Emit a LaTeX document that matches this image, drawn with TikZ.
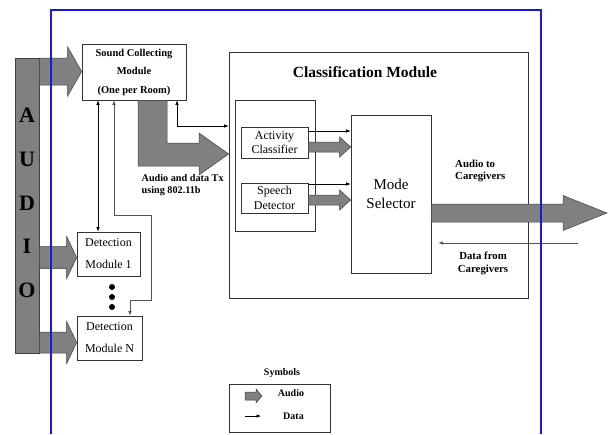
\documentclass[tikz,border=0pt]{standalone}
\usepackage{fontspec}
\setmainfont{Liberation Serif}
\usetikzlibrary{arrows.meta,calc}
\definecolor{frameblue}{RGB}{25,25,215}
\definecolor{agray}{RGB}{128,128,128}
% #2 start, #3 tip, #4 shaft half width, #5 head half width, #6 head length
\newcommand\audioarrow[6][]{%
  \draw[audio,#1] let \p1=(#2), \p2=(#3) in
    (\x1,\y1+#4) -- (\x2-#6,\y1+#4) -- (\x2-#6,\y1+#5) -- (\x2,\y1)
    -- (\x2-#6,\y1-#5) -- (\x2-#6,\y1-#4) -- (\x1,\y1-#4) -- cycle;}
\begin{document}
\begin{tikzpicture}[x=1pt,y=-1pt,
  >={Latex[length=4.5pt,width=3.5pt]},
  box/.style={draw=black!80, fill=white, line width=0.6pt, inner sep=0pt, align=center},
  audio/.style={fill=agray, draw=black!75, line width=0.5pt},
  data/.style={draw=black, line width=0.6pt},
  graydata/.style={draw=black!68, line width=0.7pt},
  lbl/.style={inner sep=0pt, font=\fontsize{10.2}{12}\selectfont\bfseries},
  regtext/.style={font=\fontsize{12}{22}\selectfont}]
\useasboundingbox (0,0) rectangle (610,434);
\fill[white] (0,0) rectangle (610,434);

% helper coordinates
\coordinate (ya) at (0,71.5);
\coordinate (yb) at (0,257.5);
\coordinate (yc) at (0,342.5);
\coordinate (yd) at (0,147);
\coordinate (ye) at (0,200);
\coordinate (yf) at (0,213);
\coordinate (c98) at (98,0);
\coordinate (c114) at (114,0);
\coordinate (c130) at (130,0);
\coordinate (c138) at (138,0);
\coordinate (c167) at (167,0);
\coordinate (c177) at (177,0);
\coordinate (c126) at (0,126);
\coordinate (c131) at (0,131);
\coordinate (c184) at (0,184);
\coordinate (c154) at (0,154);
\coordinate (dfc) at (578,243);
\coordinate (outtip) at (607,213);

% audio bar
\node[box, fill=agray, draw=black!75, minimum width=24pt, minimum height=295pt] (bar) at (27,205.5) {};
\node[inner sep=0pt, font=\fontsize{22}{43.75}\selectfont\bfseries, align=center] (audiotxt) at (27,203) {A\\U\\D\\I\\O};

% boxes
\node[box, minimum width=104pt, minimum height=56pt, font=\fontsize{10.5}{18.5}\selectfont\bfseries] (scm) at (134,72) {Sound Collecting\\Module\\(One per Room)};
\node[box, regtext, minimum width=63pt, minimum height=44pt] (det1) at (108.5,254) {Detection\\Module 1};
\node[box, regtext, minimum width=65pt, minimum height=44pt] (detN) at (109.5,338) {Detection\\Module N};
\node[box, minimum width=299pt, minimum height=246pt] (cls) at (378.5,175) {};
\node[inner sep=0pt, font=\fontsize{15.5}{18}\selectfont\bfseries] (clstitle) at (365,72) {Classification Module};
\node[box, minimum width=80pt, minimum height=131pt] (inner) at (275,165.5) {};
\node[box, font=\fontsize{12}{14.5}\selectfont, minimum width=67pt, minimum height=31pt] (act) at (274.5,142.5) {Activity\\Classifier};
\node[box, font=\fontsize{12}{14.5}\selectfont, minimum width=67pt, minimum height=30pt] (spd) at (274.5,198) {Speech\\Detector};
\node[box, font=\fontsize{15}{19}\selectfont, minimum width=80pt, minimum height=158pt] (mode) at (391,194) {Mode\\Selector};

% audio arrows from the bar
\audioarrow{bar.east |- ya}{scm.west |- ya}{13.5pt}{24.5pt}{14pt}
\audioarrow{bar.east |- yb}{det1.west |- yb}{11pt}{21pt}{10pt}
\audioarrow{bar.east |- yc}{detN.west |- yc}{10.5pt}{21pt}{10pt}

% bent audio arrow from the sound collecting module to the classification module
\draw[audio] (scm.south -| c138) -- (scm.south -| c167) -- (167,143) -- (199,143) -- (199,133)
  -- (cls.west |- c154) -- (199,175) -- (199,166) -- (138,166) -- cycle;

% audio arrows inside classification module
\audioarrow{act.east |- yd}{mode.west |- yd}{5pt}{10pt}{11pt}
\audioarrow{spd.east |- ye}{mode.west |- ye}{5pt}{10pt}{11pt}
% output audio arrow
\audioarrow{mode.east |- yf}{outtip}{9pt}{17.5pt}{44pt}

% data connectors
\draw[data,<->] (scm.south -| c98) -- (det1.north -| c98);
\draw[graydata,<->] (scm.south -| c114) -- (114,215) -- (151,215) -- (151,300) -- (130,300) -- (detN.north -| c130);
\draw[data,<->] (scm.south -| c177) |- (cls.west |- c126);
\draw[data,->] (act.east |- c131) -- (mode.west |- c131);
\draw[data,->] (spd.east |- c184) -- (mode.west |- c184);
\draw[graydata,->, shorten >=7pt] (dfc) -- (mode.east |- dfc);

% dots
\foreach \yy/\nm in {287/d1,297/d2,307/d3}
  \fill (112,\yy) circle[radius=3pt] coordinate (\nm);

% labels
\node[lbl, align=left, anchor=west] (txlab) at (141.5,185.5) {Audio and data Tx\\using 802.11b};
\node[lbl, font=\fontsize{10.8}{12.5}\selectfont\bfseries, align=left, anchor=west] (outlab) at (455,171) {Audio to\\Caregivers};
\node[lbl, font=\fontsize{10.8}{13}\selectfont\bfseries, align=center] (inlab) at (483,263.5) {Data from\\Caregivers};

% symbols legend
\node[lbl, font=\fontsize{10}{12}\selectfont\bfseries] (symt) at (282,373) {Symbols};
\node[box, minimum width=101pt, minimum height=48pt] (symbox) at (279.5,408) {};
\coordinate (sa1) at (245,396);
\coordinate (sa2) at (262,396);
\audioarrow{sa1}{sa2}{4pt}{7pt}{6pt}
\node[lbl, font=\fontsize{10}{12}\selectfont\bfseries] (syma) at (291,393) {Audio};
\coordinate (sd1) at (245,416);
\coordinate (sd2) at (261,416);
\draw[data,->] (sd1) -- (sd2);
\node[lbl, font=\fontsize{10}{12}\selectfont\bfseries] (symd) at (293.5,416) {Data};

% blue frame
\draw[frameblue, line width=1.3pt] (51,434) -- (51,10) -- (541,10) -- (541,434);
\end{tikzpicture}
\end{document}
